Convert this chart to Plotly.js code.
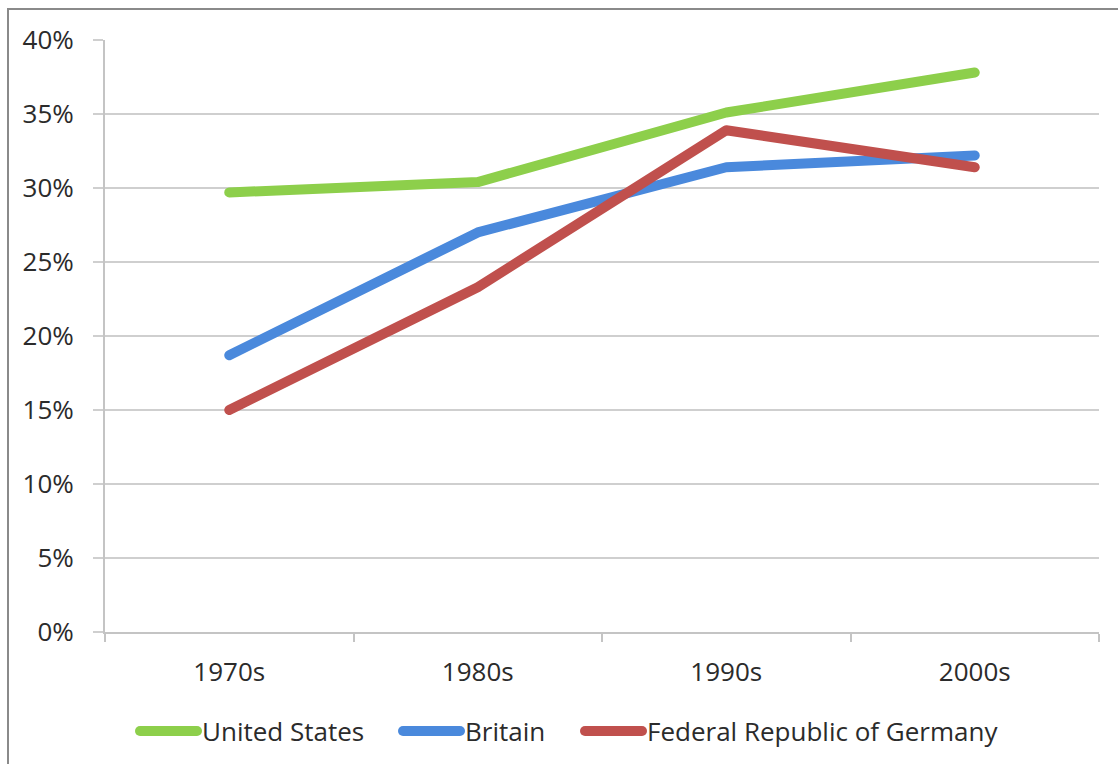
<!DOCTYPE html>
<html>
<head>
<meta charset="utf-8">
<script src="https://cdn.plot.ly/plotly-3.0.1.min.js"></script>
<style>
  html, body { margin: 0; padding: 0; background: #fff; }
  #wrap { position: relative; width: 1118px; height: 764px; overflow: hidden; }
  #chart { position: absolute; left: 0; top: 0; width: 1118px; height: 764px; }
  #frame { position: absolute; left: 7px; top: 8px; width: 1200px; height: 900px;
           border-left: 2px solid #8a8a8a; border-top: 2px solid #8a8a8a; pointer-events: none; }
  #chart path.js-line, #chart .legendlines path { stroke-linecap: round; stroke-linejoin: round; }
</style>
</head>
<body>
<div id="wrap">
  <div id="chart"></div>
  <div id="frame"></div>
</div>
<script>
const decades = ["1970s", "1980s", "1990s", "2000s"];
const unitedStates = [0.297, 0.304, 0.351, 0.378];
const britain = [0.187, 0.270, 0.314, 0.322];
const germany = [0.150, 0.233, 0.339, 0.314];
const seriesNames = ["United States", "Britain", "Federal Republic of Germany"];
const yTicks = [0, 0.05, 0.10, 0.15, 0.20, 0.25, 0.30, 0.35, 0.40];

const colors = ["#8DCF4B", "#4A89DC", "#C0504D"];
const series = [unitedStates, britain, germany];
const legendIds = ["legend", "legend2", "legend3"];
const legendX = [135, 398, 580];

const traces = series.map((vals, i) => ({
  type: "scatter",
  mode: "lines",
  name: seriesNames[i],
  x: decades,
  y: vals,
  line: { color: colors[i], width: 10 },
  legend: legendIds[i],
  hoverinfo: "skip"
}));

const font = { family: "Open Sans, sans-serif", size: 26, color: "#2b2b2b" };

function makeLegend(px) {
  return {
    orientation: "h",
    x: px / 1118, xref: "container", xanchor: "left",
    y: 0.043, yref: "container", yanchor: "middle",
    font: font,
    itemwidth: 57,
    bgcolor: "rgba(0,0,0,0)"
  };
}

const layout = {
  width: 1118,
  height: 764,
  margin: { l: 105, r: 19, t: 40, b: 132 },
  paper_bgcolor: "#ffffff",
  plot_bgcolor: "#ffffff",
  font: font,
  showlegend: true,
  legend: makeLegend(legendX[0]),
  legend2: makeLegend(legendX[1]),
  legend3: makeLegend(legendX[2]),
  xaxis: {
    type: "category",
    range: [-0.5, 3.5],
    showgrid: false,
    showline: true,
    linecolor: "#c4c4c4",
    linewidth: 2,
    ticks: "outside",
    tickson: "boundaries",
    ticklen: 8,
    tickwidth: 2,
    tickcolor: "#c4c4c4",
    ticklabelstandoff: 16,
    tickfont: font,
    zeroline: false,
    fixedrange: true
  },
  yaxis: {
    range: [0, 0.40],
    tickvals: yTicks,
    tickformat: ".0%",
    showgrid: true,
    gridcolor: "#cfcfcf",
    gridwidth: 2,
    showline: true,
    linecolor: "#c4c4c4",
    linewidth: 2,
    ticks: "outside",
    ticklen: 10,
    tickwidth: 2,
    tickcolor: "#cfcfcf",
    ticklabelstandoff: 14,
    tickfont: font,
    zeroline: false,
    fixedrange: true
  }
};

Plotly.newPlot("chart", traces, layout, { displayModeBar: false, staticPlot: true });
</script>
</body>
</html>
